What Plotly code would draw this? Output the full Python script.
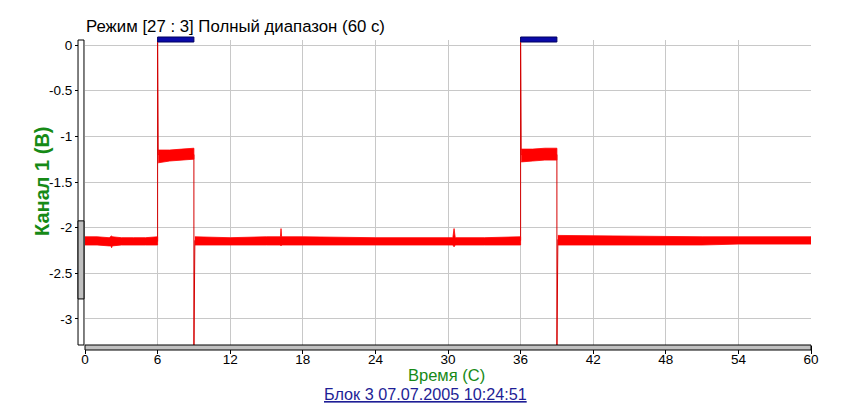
import plotly.graph_objects as go

# ---------------- data ----------------
# thin signal line through the transition key points (time s, volts)
sig_t = [0, 6.0, 6.0, 6.03, 6.05, 9.0, 9.0, 9.08, 36.0, 36.0, 36.03, 36.05, 39.0, 39.0, 39.08, 60]
sig_v = [-2.15, -2.15, 0.03, -0.92, -1.2, -1.2, -3.4, -2.14, -2.14, 0.03, -1.04, -1.2, -1.2, -3.4, -2.13, -2.13]

# noise envelopes of the signal (upper / lower), per segment
bandA_t = [0, 1, 2, 2.15, 2.2, 2.25, 3, 4, 5, 6]
bandA_hi = [-2.10, -2.10, -2.11, -2.10, -2.09, -2.10, -2.11, -2.11, -2.11, -2.10]
bandA_lo = [-2.19, -2.19, -2.20, -2.20, -2.22, -2.20, -2.19, -2.19, -2.19, -2.19]

bandB_t = [6.05, 7, 8, 9]
bandB_hi = [-1.15, -1.15, -1.14, -1.13]
bandB_lo = [-1.29, -1.27, -1.26, -1.25]

bandC_t = [9.08, 12, 15, 16.15, 16.2, 16.25, 18, 24, 30.4, 30.5, 30.6, 33, 36]
bandC_hi = [-2.10, -2.11, -2.10, -2.10, -2.01, -2.10, -2.10, -2.11, -2.11, -2.01, -2.11, -2.11, -2.10]
bandC_lo = [-2.19, -2.19, -2.19, -2.19, -2.20, -2.19, -2.19, -2.19, -2.19, -2.21, -2.19, -2.19, -2.19]

bandD_t = [36.05, 37, 38, 39]
bandD_hi = [-1.14, -1.14, -1.13, -1.13]
bandD_lo = [-1.28, -1.27, -1.26, -1.26]

bandE_t = [39.08, 42, 45, 48, 51, 54, 57, 60]
bandE_hi = [-2.085, -2.09, -2.095, -2.10, -2.10, -2.10, -2.10, -2.10]
bandE_lo = [-2.19, -2.19, -2.19, -2.19, -2.19, -2.18, -2.18, -2.18]

# blue mode markers (start, end) in seconds
marker_spans = [(6, 9), (36, 39)]

x_ticks = [0, 6, 12, 18, 24, 30, 36, 42, 48, 54, 60]
x_tick_labels = [str(v) for v in x_ticks]
y_ticks = [0, -0.5, -1, -1.5, -2, -2.5, -3]
y_tick_labels = ["0", "-0.5", "-1", "-1.5", "-2", "-2.5", "-3"]

title_text = "Режим [27 : 3] Полный диапазон (60 с)"
y_title = "Канал 1 (В)"
x_title = "Время (С)"
footer_text = "Блок 3 07.07.2005 10:24:51"

# ---------------- figure ----------------
FONT = "Liberation Sans, Arial, sans-serif"
GREEN = "#168a16"
RED = "#ff0000"

fig = go.Figure()

fig.add_trace(go.Scatter(x=sig_t, y=sig_v, mode="lines",
                         line=dict(color="#d40000", width=1), hoverinfo="skip"))

for bt, hi, lo in [(bandA_t, bandA_hi, bandA_lo), (bandB_t, bandB_hi, bandB_lo),
                   (bandC_t, bandC_hi, bandC_lo), (bandD_t, bandD_hi, bandD_lo),
                   (bandE_t, bandE_hi, bandE_lo)]:
    fig.add_trace(go.Scatter(x=list(bt) + list(bt)[::-1], y=list(hi) + list(lo)[::-1],
                             mode="lines", fill="toself", fillcolor=RED,
                             line=dict(color=RED, width=0.8), hoverinfo="skip"))

shapes = []
# left y scroll bar
shapes.append(dict(type="rect", xref="paper", yref="paper", x0=-0.0096, x1=-0.0014, y0=0, y1=1,
                   fillcolor="white", line=dict(color="black", width=1), layer="above"))
shapes.append(dict(type="rect", xref="paper", yref="paper", x0=-0.0096, x1=-0.0014, y0=0.151, y1=0.407,
                   fillcolor="#c0c0c0", line=dict(color="black", width=1), layer="above"))
# bottom x scroll bar
shapes.append(dict(type="rect", xref="paper", yref="paper", x0=0, x1=1, y0=-0.0164, y1=0,
                   fillcolor="#c0c0c0", line=dict(color="black", width=1), layer="above"))
# blue markers
for s, e in marker_spans:
    shapes.append(dict(type="rect", xref="x", yref="paper", x0=s, x1=e, y0=0.9934, y1=1.0098,
                       fillcolor="#0a0aa8", line=dict(color="#000060", width=1), layer="above"))

annotations = [
    dict(text=title_text, xref="paper", yref="paper", x=-0.002, y=1.043, xanchor="left", yanchor="middle",
         showarrow=False, font=dict(family=FONT, size=16.8, color="black")),
    dict(text="<b>" + y_title + "</b>", xref="paper", yref="paper", x=-0.059, y=0.535,
         xanchor="center", yanchor="middle", textangle=-90, showarrow=False,
         font=dict(family=FONT, size=20, color=GREEN)),
    dict(text=x_title, xref="paper", yref="paper", x=0.4986, y=-0.099, xanchor="center", yanchor="middle",
         showarrow=False, font=dict(family=FONT, size=16.5, color=GREEN)),
    dict(text="<u>" + footer_text + "</u>", xref="paper", yref="paper", x=0.469, y=-0.162,
         xanchor="center", yanchor="middle", showarrow=False,
         font=dict(family=FONT, size=16.2, color="#1e1e96")),
]

fig.update_layout(
    width=846, height=396,
    margin=dict(l=77, r=43, t=32, b=59),
    paper_bgcolor="white", plot_bgcolor="white",
    showlegend=False,
    shapes=shapes, annotations=annotations,
    xaxis=dict(range=[0, 60], tickvals=x_ticks, ticktext=x_tick_labels,
               showgrid=True, gridcolor="#c8c8c8", gridwidth=1, zeroline=False,
               showline=False, ticks="outside", ticklen=8, tickcolor="black",
               ticklabelstandoff=-6,
               tickfont=dict(family=FONT, size=13.5, color="black"), fixedrange=True),
    yaxis=dict(range=[-3.285, 0.055], tickvals=y_ticks, ticktext=y_tick_labels,
               showgrid=True, gridcolor="#c8c8c8", gridwidth=1, zeroline=False,
               showline=False, ticks="outside", ticklen=9, tickcolor="black",
               tickfont=dict(family=FONT, size=13.5, color="black"), fixedrange=True),
)

fig.write_html("out.html")
